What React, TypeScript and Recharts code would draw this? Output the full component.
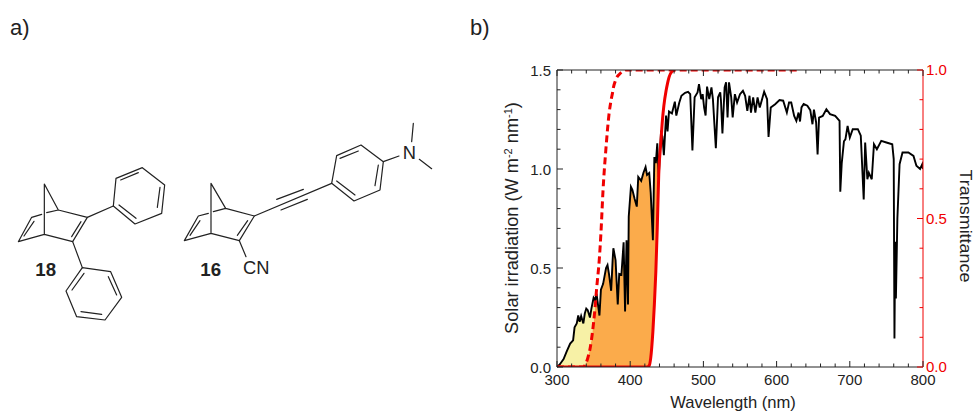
import React from "react";
import { ComposedChart, Area, Line, XAxis, YAxis, Label } from "recharts";

const wavelengths = [
  300,304,309,313,318,322,324,327,329,331,333,336,338,340,342,345,347,350,352,354,358,360,363,367,369,371,374,376,377,380,383,385,388,391,393,395,397,398,401,403,406,409,411,415,418,421,423,426,428,431,433,435,437,439,442,444,446,449,451,453,457,461,463,467,470,
  475,479,482,485,488,492,494,497,499,501,503,505,508,511,513,517,520,523,524,526,529,531,533,535,538,540,543,546,550,554,557,560,563,565,568,571,574,577,583,587,589,592,598,604,609,614,617,620,624,627,630,632,634,637,642,646,649,651,654,656,658,663,668,673,680,686,687,689,692,694,697,700,704,711,715,719,721,724,726,730,733,737,743,750,758,760,761,762,763,765,768,772,780,787,791,796,799,800,
];
const irradiance = [
  0,0.014,0.04,0.076,0.118,0.135,0.2,0.22,0.26,0.228,0.257,0.22,0.27,0.295,0.287,0.25,0.295,0.35,0.338,0.37,0.26,0.39,0.42,0.5,0.515,0.47,0.385,0.54,0.6,0.54,0.316,0.47,0.465,0.63,0.28,0.64,0.316,0.76,0.91,0.895,0.85,0.81,0.96,0.94,0.98,1.01,0.97,0.98,0.88,0.64,1.06,1.03,1.13,0.96,1.18,1.165,1.07,1.27,1.19,1.29,1.28,1.34,1.27,1.335,1.37,
  1.385,1.39,1.378,1.094,1.362,1.387,1.429,1.353,1.378,1.31,1.27,1.416,1.353,1.412,1.353,1.105,1.362,1.387,1.345,1.179,1.412,1.438,1.26,1.438,1.362,1.26,1.378,1.336,1.378,1.395,1.37,1.293,1.37,1.285,1.362,1.285,1.362,1.31,1.39,1.353,1.162,1.31,1.327,1.348,1.345,1.285,1.336,1.336,1.268,1.243,1.285,1.24,1.311,1.328,1.32,1.297,1.226,1.3,1.235,1.074,1.26,1.268,1.302,1.277,1.268,1.243,0.885,1.03,1.14,1.15,1.218,1.159,1.201,1.201,1.168,0.846,1.134,0.948,0.981,0.948,1.125,1.1,1.142,1.134,1.125,1.05,0.144,0.633,0.346,0.75,1.024,1.083,1.083,1.066,1.016,1.0,1.024,1.0,
];
// Transmittance of the two filters, read at the first wavelengths above
const dashedTransmittance = [
  0,0,0,0,0,0,0,0,0,0,0,0,0.005,0.015,0.03,0.06,0.09,0.15,0.2,0.26,0.37,0.45,0.6,0.74,0.8,0.85,0.9,0.925,0.94,0.965,0.98,0.985,0.992,0.997,1,1,1,1,1,1,1,1,1,1,1,1,1,1,1,1,1,1,1,1,1,1,1,1,1,1,1,1,1,1,1,
];
const solidTransmittance = [
  0,0,0,0,0,0,0,0,0,0,0,0,0,0,0,0,0,0,0,0,0,0,0,0,0,0,0,0,0,0,0,0,0,0,0,0,0,0,0,0,0,0,0,0,0,0,0,0.005,0.03,0.12,0.21,0.32,0.47,0.65,0.76,0.83,0.88,0.93,0.955,0.975,0.995,1,
];
const dashedEnd = 630;
const xTicks = [300,320,340,360,380,400,420,440,460,480,500,520,540,560,580,600,620,640,660,680,700,720,740,760,780,800];
const xMajor = [300,400,500,600,700,800];
const leftTicks = [0,0.1,0.2,0.3,0.4,0.5,0.6,0.7,0.8,0.9,1,1.1,1.2,1.3,1.4,1.5];
const leftMajor = [0,0.5,1,1.5];
const rightTicks = [0,0.1,0.2,0.3,0.4,0.5,0.6,0.7,0.8,0.9,1];
const rightMajor = [0,0.5,1];
const LEFT_MAX = 1.5;

const table = wavelengths.map((w, i) => {
  const solar = irradiance[i];
  const d = dashedTransmittance[i];
  const s = solidTransmittance[i];
  const row: any = {
    w,
    solar,
    dashed: d !== undefined ? d : w <= dashedEnd ? 1 : null,
    solid: s !== undefined ? s : null,
    orange: [0, 0],
    yellow: [0, 0],
  };
  if (d !== undefined) {
    const dy = d * LEFT_MAX;
    const sy = (s !== undefined ? s : 1) * LEFT_MAX;
    const top = Math.min(solar, dy);
    row.orange = [Math.min(sy, top), top];
    row.yellow = [top, solar];
  }
  return row;
});

const FONT = "'Liberation Sans', Arial, sans-serif";
const BLACK = "#222";
const RED = "#f00000";

const XTickBottom = (p: any) => {
  const v = p.payload.value;
  const major = xMajor.includes(v);
  return (
    <g>
      <line x1={p.x} x2={p.x} y1={p.y} y2={p.y - (major ? 6 : 3.5)} stroke={BLACK} strokeWidth={1} />
      {major && <text x={p.x} y={p.y + 18} textAnchor="middle" fontSize={15} fontFamily={FONT} fill="#222">{v}</text>}
    </g>
  );
};
const XTickTop = (p: any) => {
  const major = xMajor.includes(p.payload.value);
  return <line x1={p.x} x2={p.x} y1={p.y} y2={p.y + (major ? 6 : 3.5)} stroke={BLACK} strokeWidth={1} />;
};
const YTickLeft = (p: any) => {
  const v = p.payload.value;
  const major = leftMajor.includes(v);
  return (
    <g>
      <line x1={p.x} x2={p.x + (major ? 6 : 3.5)} y1={p.y} y2={p.y} stroke={BLACK} strokeWidth={1} />
      {major && <text x={p.x - 6} y={p.y + 6} textAnchor="end" fontSize={15} fontFamily={FONT} fill="#222">{v.toFixed(1)}</text>}
    </g>
  );
};
const YTickRight = (p: any) => {
  const v = p.payload.value;
  const major = rightMajor.includes(v);
  return (
    <g>
      <line x1={p.x} x2={p.x - (major ? 6 : 3.5)} y1={p.y} y2={p.y} stroke={RED} strokeWidth={1} />
      {major && <text x={p.x + 3} y={p.y + 5} textAnchor="start" fontSize={15} fontFamily={FONT} fill={RED}>{v.toFixed(1)}</text>}
    </g>
  );
};

const Bond = ({ d }: { d: string }) => <path d={d} fill="none" stroke="#222" strokeWidth={3.6} strokeLinejoin="round" strokeLinecap="round" />;

const Molecules = () => (
  <svg width={975} height={412} style={{ position: "absolute", left: 0, top: 0, pointerEvents: "none" }}>
    <text x={10} y={35} fontSize={22} fontFamily={FONT} fill="#222">a)</text>
    <text x={470} y={35} fontSize={22} fontFamily={FONT} fill="#222">b)</text>
    <g transform="translate(0,90) scale(0.33333)">
      {/* 18 */}
      <Bond d="M133,433 L133,282 L175,360 L262,382 L218,455 L133,433 L55,455 L95,382 L125,373 M140,368 L175,360 M243,395 L215,440 M72,438 L102,394" />
      <Bond d="M262,382 L340,348 M218,455 L247,533" />
      <Bond d="M340,348 L348,265 L427,233 L494,285 L485,370 L405,402 Z M362,270 L415,248 M480,292 L472,352 M408,385 L357,345" />
      <Bond d="M247,533 L332,545 L365,622 L315,690 L230,680 L198,603 Z M252,550 L216,600 M325,560 L350,615 M305,673 L243,665" />
      <text x={137} y={557} textAnchor="middle" fontSize={56} fontWeight={700} fontFamily={FONT} fill="#222">18</text>
      {/* 16 */}
      <Bond d="M633,430 L633,280 L677,355 L763,378 L718,452 L633,430 L553,452 L595,378 L625,370 M640,365 L677,355 M743,392 L712,436 M570,436 L600,392" />
      <Bond d="M763,378 L995,280 M830,328 L910,298 M843,360 L922,328 M718,452 L738,500" />
      <Bond d="M995,280 L1010,197 L1083,165 L1150,215 L1140,300 L1062,333 Z M1020,205 L1075,183 M1135,225 L1125,287 M1065,315 L1010,273" />
      <Bond d="M1150,215 L1197,198 M1235,155 L1240,100 M1258,208 L1295,236" />
      <text x={632} y={557} textAnchor="middle" fontSize={56} fontWeight={700} fontFamily={FONT} fill="#222">16</text>
      <text x={729} y={552} fontSize={55} fontFamily={FONT} fill="#222">CN</text>
      <text x={1228} y={207} textAnchor="middle" fontSize={55} fontFamily={FONT} fill="#222">N</text>
    </g>
  </svg>
);

export default function App() {
  return (
    <div style={{ position: "absolute", left: 0, top: 0, width: 975, height: 412, background: "#fff" }}>
      <ComposedChart width={975} height={412} data={table} margin={{ top: 0, right: 0, bottom: 0, left: 0 }}>
        <XAxis xAxisId="b" dataKey="w" type="number" domain={[300, 800]} ticks={xTicks} interval={0} height={45} stroke={BLACK} tickSize={0} tickMargin={0} tickLine={false} tick={XTickBottom} allowDataOverflow>
          <Label content={() => <text x={733} y={408} textAnchor="middle" fontSize={16.6} fontFamily={FONT} fill="#222">Wavelength (nm)</text>} />
        </XAxis>
        <XAxis xAxisId="t" dataKey="w" type="number" orientation="top" domain={[300, 800]} ticks={xTicks} interval={0} height={70} stroke={BLACK} tickSize={0} tickMargin={0} tickLine={false} tick={XTickTop} />
        <YAxis yAxisId="l" domain={[0, LEFT_MAX]} ticks={leftTicks} interval={0} width={557} stroke={BLACK} tickSize={0} tickMargin={0} tickLine={false} tick={YTickLeft}>
          <Label content={() => (
            <text transform="translate(518,218) rotate(-90)" textAnchor="middle" fontSize={18.2} fontFamily={FONT} fill="#222">
              Solar irradiation (W m<tspan dy={-6} fontSize={11}>-2</tspan><tspan dy={6}> nm</tspan><tspan dy={-6} fontSize={11}>-1</tspan><tspan dy={6}>)</tspan>
            </text>
          )} />
        </YAxis>
        <YAxis yAxisId="r" orientation="right" domain={[0, 1]} ticks={rightTicks} interval={0} width={52} stroke={RED} tickSize={0} tickMargin={0} tickLine={false} tick={YTickRight} allowDataOverflow>
          <Label content={() => <text transform="translate(959.5,226) rotate(90)" textAnchor="middle" fontSize={16.5} textLength={113} lengthAdjust="spacingAndGlyphs" fontFamily={FONT} fill="#222">Transmittance</text>} />
        </YAxis>
        <Area xAxisId="b" yAxisId="l" dataKey="yellow" type="linear" stroke="none" fill="#F7F1A6" fillOpacity={1} isAnimationActive={false} dot={false} activeDot={false} />
        <Area xAxisId="b" yAxisId="l" dataKey="orange" type="linear" stroke="none" fill="#FBAB4B" fillOpacity={1} isAnimationActive={false} dot={false} activeDot={false} />
        <Line xAxisId="b" yAxisId="l" dataKey="solar" type="linear" stroke="#000" strokeWidth={1.9} dot={false} activeDot={false} isAnimationActive={false} />
        <Line xAxisId="b" yAxisId="r" dataKey="dashed" type="monotone" stroke={RED} strokeWidth={3} strokeDasharray="7 4" dot={false} activeDot={false} isAnimationActive={false} />
        <Line xAxisId="b" yAxisId="r" dataKey="solid" type="monotone" stroke={RED} strokeWidth={3} dot={false} activeDot={false} isAnimationActive={false} />
      </ComposedChart>
      <Molecules />
    </div>
  );
}
